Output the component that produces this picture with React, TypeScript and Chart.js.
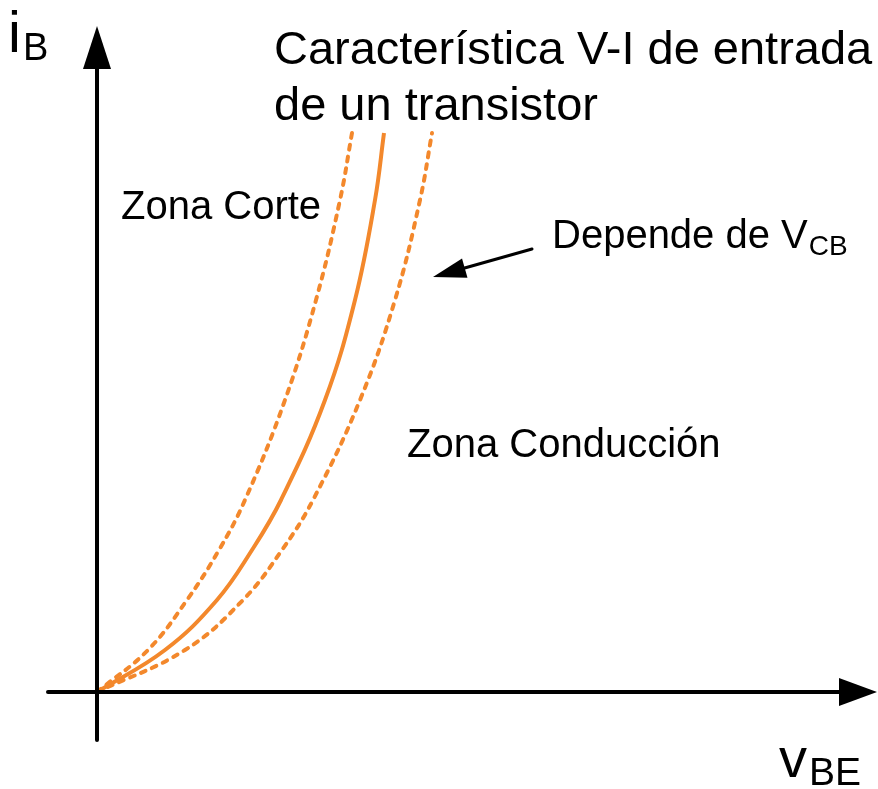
import React, { useEffect, useRef } from "react";
import { Chart, registerables } from "chart.js";

Chart.register(...registerables);

// V_BE (arbitrary units) and i_B (arbitrary units) for three curves
const vbeLow = [0, 51, 90, 122, 148, 188, 219, 243, 255];
const ibLow = [0, 42, 92, 142, 192, 292, 392, 492, 559];

const vbeMid = [0, 68, 120, 155, 184, 228, 258, 278, 287];
const ibMid = [0, 42, 92, 142, 192, 292, 392, 492, 559];

const vbeHigh = [0, 88, 146, 185, 216, 263, 298, 323, 335];
const ibHigh = [0, 42, 92, 142, 192, 292, 392, 492, 559];

const titleLines = ["Característica V-I de entrada", "de un transistor"];
const zoneCut = "Zona Corte";
const zoneConduction = "Zona Conducción";
const dependsText = "Depende de V";
const dependsSub = "CB";
const yLabel = "i";
const yLabelSub = "B";
const xLabel = "v";
const xLabelSub = "BE";

const ORANGE = "#F3882C";
const FONT = "Arial, 'Liberation Sans', sans-serif";

const toPts = (xs: number[], ys: number[]) => xs.map((x, i) => ({ x, y: ys[i] }));

export default function App() {
  const ref = useRef<HTMLCanvasElement>(null);
  useEffect(() => {
    const canvas = ref.current!;
    const decor = {
      id: "decor",
      afterDraw(chart: any) {
        const ctx = chart.ctx as CanvasRenderingContext2D;
        const xs = chart.scales.x;
        const ys = chart.scales.y;
        const ox = xs.getPixelForValue(0);
        const oy = ys.getPixelForValue(0);
        const left = xs.getPixelForValue(xs.min);
        const right = xs.getPixelForValue(xs.max);
        const bottom = ys.getPixelForValue(ys.min);
        const top = 26;
        ctx.save();
        ctx.strokeStyle = "#000";
        ctx.fillStyle = "#000";
        ctx.lineWidth = 4;
        ctx.lineCap = "round";
        // y axis
        ctx.beginPath();
        ctx.moveTo(ox, bottom);
        ctx.lineTo(ox, top + 40);
        ctx.stroke();
        ctx.beginPath();
        ctx.moveTo(ox, top);
        ctx.lineTo(ox - 14, top + 43);
        ctx.lineTo(ox + 14, top + 43);
        ctx.closePath();
        ctx.fill();
        // x axis
        ctx.beginPath();
        ctx.moveTo(left, oy);
        ctx.lineTo(right - 36, oy);
        ctx.stroke();
        ctx.beginPath();
        ctx.moveTo(right, oy);
        ctx.lineTo(right - 38, oy - 14);
        ctx.lineTo(right - 38, oy + 14);
        ctx.closePath();
        ctx.fill();
        // pointer arrow
        const ax0 = 532, ay0 = 249, ax1 = 433, ay1 = 277;
        const ang = Math.atan2(ay1 - ay0, ax1 - ax0);
        ctx.lineWidth = 3;
        ctx.beginPath();
        ctx.moveTo(ax0, ay0);
        ctx.lineTo(ax1 - Math.cos(ang) * 20, ay1 - Math.sin(ang) * 20);
        ctx.stroke();
        ctx.beginPath();
        ctx.moveTo(ax1, ay1);
        ctx.lineTo(ax1 - Math.cos(ang) * 33 - Math.sin(ang) * 10, ay1 - Math.sin(ang) * 33 + Math.cos(ang) * 10);
        ctx.lineTo(ax1 - Math.cos(ang) * 33 + Math.sin(ang) * 10, ay1 - Math.sin(ang) * 33 - Math.cos(ang) * 10);
        ctx.closePath();
        ctx.fill();
        // texts
        ctx.textBaseline = "alphabetic";
        ctx.textAlign = "left";
        ctx.font = `47px ${FONT}`;
        ctx.fillText(titleLines[0], 274, 64);
        ctx.fillText(titleLines[1], 274, 120);
        ctx.font = `40px ${FONT}`;
        ctx.fillText(zoneCut, 121, 219);
        ctx.fillText(zoneConduction, 407, 457);
        ctx.font = `40px ${FONT}`;
        ctx.fillText(dependsText, 552, 248);
        const dw = ctx.measureText(dependsText).width;
        ctx.font = `28px ${FONT}`;
        ctx.fillText(dependsSub, 552 + dw + 1, 255);
        ctx.font = `58px ${FONT}`;
        ctx.fillText(yLabel, 8, 52);
        const iw = ctx.measureText(yLabel).width;
        ctx.font = `38px ${FONT}`;
        ctx.fillText(yLabelSub, 8 + iw + 2, 60);
        ctx.font = `56px ${FONT}`;
        ctx.fillText(xLabel, 779, 777);
        const vw = ctx.measureText(xLabel).width;
        ctx.font = `39px ${FONT}`;
        ctx.fillText(xLabelSub, 779 + vw + 2, 785);
        ctx.restore();
      },
    };
    const dashed = {
      borderColor: ORANGE,
      borderWidth: 4,
      borderDash: [5, 7],
      borderCapStyle: "round" as const,
      pointRadius: 0,
      tension: 0.4,
      fill: false,
    };
    const chart = new Chart(canvas, {
      type: "line",
      data: {
        datasets: [
          { ...dashed, data: toPts(vbeLow, ibLow) },
          {
            data: toPts(vbeMid, ibMid),
            borderColor: ORANGE,
            borderWidth: 4,
            pointRadius: 0,
            tension: 0.4,
            fill: false,
          },
          { ...dashed, data: toPts(vbeHigh, ibHigh) },
        ],
      },
      options: {
        animation: false,
        responsive: false,
        layout: { padding: { left: 48, right: 1, top: 30, bottom: 49 } },
        plugins: { legend: { display: false }, tooltip: { enabled: false } },
        scales: {
          x: { type: "linear", min: -49, max: 780, display: false },
          y: { type: "linear", min: -48, max: 662, display: false },
        },
      },
      plugins: [decor],
    });
    return () => chart.destroy();
  }, []);
  return (
    <div style={{ position: "absolute", left: 0, top: 0, width: 878, height: 789, background: "#fff" }}>
      <canvas ref={ref} width={878} height={789} style={{ width: 878, height: 789 }} />
    </div>
  );
}
